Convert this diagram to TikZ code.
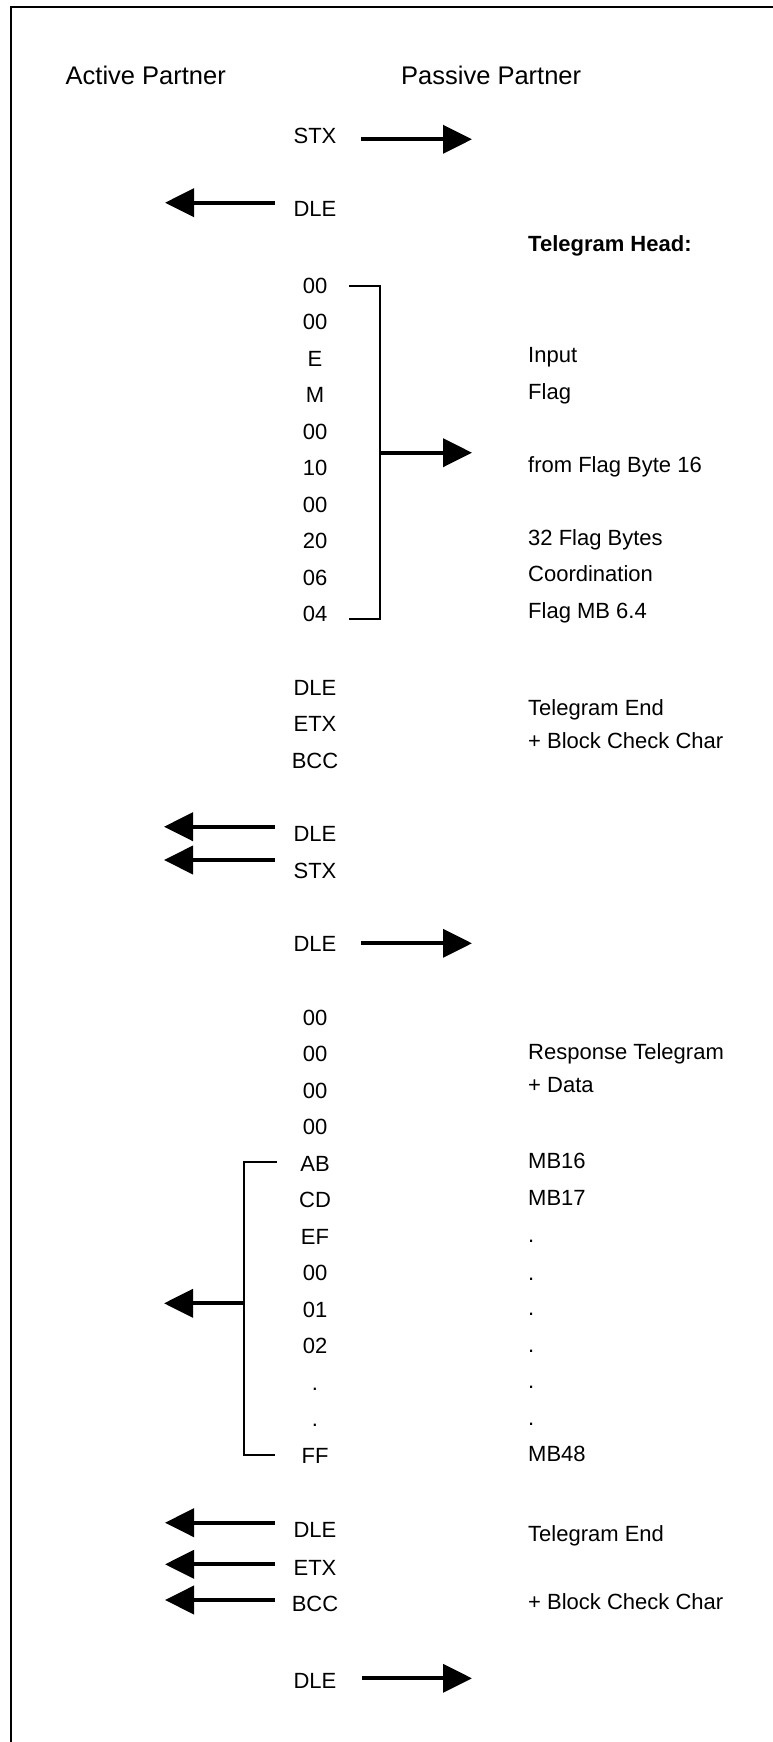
\documentclass[tikz,border=0pt]{standalone}
\usepackage{fontspec}
\setmainfont{Liberation Sans}
\usetikzlibrary{arrows.meta}
\tikzset{
  lbl/.style={anchor=base, inner sep=0pt, font=\fontsize{22}{26}\selectfont},
  rtxt/.style={lbl, anchor=base west},
  rbold/.style={rtxt, font=\fontsize{22}{26}\selectfont\bfseries},
  head/.style={anchor=base west, inner sep=0pt, font=\fontsize{25.5}{30}\selectfont},
  bigarrow/.style={line width=4pt, -{Triangle[length=29pt,width=28pt]}},
  brk/.style={line width=2pt},
  framel/.style={line width=2pt}
}
\begin{document}
\begin{tikzpicture}[x=1pt,y=-1pt]
\useasboundingbox (0,0) rectangle (772,1742);
% frame (right and bottom sides lie outside the picture)
\coordinate (fbl) at (11,1760);
\coordinate (ftl) at (11,6.7);
\coordinate (ftr) at (790,6.7);
\draw[framel] (fbl) -- (ftl) -- (ftr);

% headers
\node[head] (hact) at (65.5,85) {Active Partner};
\node[head] (hpas) at (401,85) {Passive Partner};

% section 1
\node[lbl] (s1stx) at (315,143.3) {STX};
\node[lbl] (s1dle) at (315,216.7) {DLE};
\coordinate (a1s) at (361,139.3); \coordinate (a1e) at (472,139.3);
\draw[bigarrow] (a1s) -- (a1e);
\coordinate (a2s) at (275,202.7); \coordinate (a2e) at (165,202.7);
\draw[bigarrow] (a2s) -- (a2e);

\node[rbold] (thead) at (528,251.7) {Telegram Head:};

% section 2: telegram head bytes
\foreach \t [count=\i from 0] in {00,00,E,M,00,10,00,20,06,04}
  \node[lbl] (h\i) at (315,{293+36.5*\i}) {\t};
\node[rtxt] (rin) at (528,362) {Input};
\node[rtxt] (rfl) at (528,399) {Flag};
\node[rtxt] (rfb) at (528,472) {from Flag Byte 16};
\node[rtxt] (r32) at (528,545) {32 Flag Bytes};
\node[rtxt] (rco) at (528,581.5) {Coordination};
\node[rtxt] (rmb) at (528,618) {Flag MB 6.4};
\coordinate (b1a) at (349,286); \coordinate (b1b) at (380,286);
\coordinate (b1c) at (380,619); \coordinate (b1d) at (349,619);
\draw[brk] (b1a) -- (b1b) -- (b1c) -- (b1d);
\coordinate (b1m) at (381,452.7); \coordinate (a3e) at (472,452.7);
\draw[bigarrow] (b1m) -- (a3e);

% section 3
\node[lbl] (s3dle) at (315,695) {DLE};
\node[lbl] (s3etx) at (315,731.3) {ETX};
\node[lbl] (s3bcc) at (315,768) {BCC};
\node[rtxt] (s3te) at (528,715) {Telegram End};
\node[rtxt] (s3bc) at (528,748.3) {+ Block Check Char};

% section 4
\node[lbl] (s4dle) at (315,841.3) {DLE};
\node[lbl] (s4stx) at (315,878) {STX};
\coordinate (a4s) at (275,826.7); \coordinate (a4e) at (164,826.7);
\draw[bigarrow] (a4s) -- (a4e);
\coordinate (a5s) at (275,860); \coordinate (a5e) at (164,860);
\draw[bigarrow] (a5s) -- (a5e);

% section 5
\node[lbl] (s5dle) at (315,951.3) {DLE};
\coordinate (a6s) at (361,943.3); \coordinate (a6e) at (472,943.3);
\draw[bigarrow] (a6s) -- (a6e);

% section 6: response telegram
\foreach \t [count=\i from 0] in {00,00,00,00,AB,CD,EF,00,01,02,.,.,FF}
  \node[lbl] (d\i) at (315,{1025+36.5*\i}) {\t};
\node[rtxt] (rrt) at (528,1059.3) {Response Telegram};
\node[rtxt] (rda) at (528,1092.7) {+ Data};
\node[rtxt] (rm16) at (528,1168) {MB16};
\node[rtxt] (rm17) at (528,1205.5) {MB17};
\node[rtxt] (rp1) at (528,1242.5) {.};
\node[rtxt] (rp2) at (528,1280.5) {.};
\node[rtxt] (rp3) at (528,1315.5) {.};
\node[rtxt] (rp4) at (528,1352) {.};
\node[rtxt] (rp5) at (528,1388) {.};
\node[rtxt] (rp6) at (528,1425) {.};
\node[rtxt] (rm48) at (528,1461.5) {MB48};
\coordinate (b2a) at (277,1161.7); \coordinate (b2b) at (244,1161.7);
\coordinate (b2c) at (244,1455); \coordinate (b2d) at (275,1455);
\draw[brk] (b2a) -- (b2b) -- (b2c) -- (b2d);
\coordinate (b2m) at (243,1303.3); \coordinate (a7e) at (164,1303.3);
\draw[bigarrow] (b2m) -- (a7e);

% section 7
\node[lbl] (s7dle) at (315,1537.4) {DLE};
\node[lbl] (s7etx) at (315,1575) {ETX};
\node[lbl] (s7bcc) at (315,1611) {BCC};
\node[rtxt] (s7te) at (528,1541) {Telegram End};
\node[rtxt] (s7bc) at (528,1609.6) {+ Block Check Char};
\coordinate (a8s) at (275,1522.7); \coordinate (a8e) at (165,1522.7);
\draw[bigarrow] (a8s) -- (a8e);
\coordinate (a9s) at (275,1564.3); \coordinate (a9e) at (165,1564.3);
\draw[bigarrow] (a9s) -- (a9e);
\coordinate (a10s) at (275,1600); \coordinate (a10e) at (165,1600);
\draw[bigarrow] (a10s) -- (a10e);

% section 8
\node[lbl] (s8dle) at (315,1688.5) {DLE};
\coordinate (a11s) at (362,1678.3); \coordinate (a11e) at (472,1678.3);
\draw[bigarrow] (a11s) -- (a11e);
\end{tikzpicture}
\end{document}
